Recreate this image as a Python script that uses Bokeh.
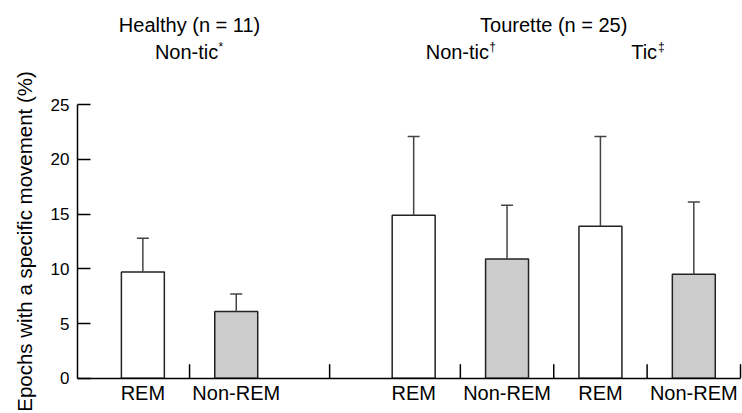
import math
from bokeh.plotting import figure
from bokeh.models import Range1d, FixedTicker, LinearAxis, ColumnDataSource
from bokeh.core.properties import value
from bokeh.embed import file_html
from bokeh.resources import INLINE

# ---- data ----
groups = ["Healthy (n = 11)", "Tourette (n = 25)"]
conditions = ["Non-tic", "Non-tic", "Tic"]
condition_marks = ["*", "\u2020", "\u2021"]
stages = ["REM", "Non-REM", "REM", "Non-REM", "REM", "Non-REM"]
means = [9.7, 6.1, 14.9, 10.9, 13.9, 9.5]
upper = [12.8, 7.7, 22.1, 15.8, 22.1, 16.1]
y_ticks = [0, 5, 10, 15, 20, 25]
y_title = "Epochs with a specific movement (%)"

# ---- layout (slot positions) ----
pos = [0.7, 1.7, 3.6, 4.6, 5.6, 6.6]
seps = [1.2, 2.7, 4.1, 5.1, 6.1, 7.1]
group_x = [1.2, 5.1]
cond_x = [1.2, 4.1, 6.1]
fills = ["white" if s == "REM" else "#cccccc" for s in stages]

FONT = value("Liberation Sans")
W, H = 742, 413
AXIS_X = 77          # pixel column of the y axis
AXIS_Y = 377.7       # pixel row of the x axis
X_AXIS_END = 740     # pixel column where the x axis ends
px_per_unit = 10.94
x_end_data = 7.1
x_px = (X_AXIS_END - AXIS_X) / x_end_data
x_start = -AXIS_X / x_px
x_end = (W - AXIS_X) / x_px
y_start = -(H - AXIS_Y) / px_per_unit
y_end = AXIS_Y / px_per_unit

p = figure(width=W, height=H, output_backend="svg", toolbar_location=None,
           x_range=Range1d(x_start, x_end), y_range=Range1d(y_start, y_end),
           x_axis_type=None, y_axis_type=None,
           min_border_left=0, min_border_right=0,
           min_border_top=0, min_border_bottom=0)
p.outline_line_color = None
p.background_fill_color = "white"

# y axis (drawn at x = 0 inside the frame)
yax = LinearAxis(bounds=(0, 25), ticker=FixedTicker(ticks=y_ticks),
                 fixed_location=0)
yax.axis_line_color = "black"
yax.axis_line_width = 1.5
yax.major_tick_in = 13
yax.major_tick_out = 0
yax.major_tick_line_width = 1.5
yax.minor_tick_line_color = None
yax.major_label_text_font = "Liberation Sans"
yax.major_label_text_font_size = "17px"
yax.major_label_text_color = "black"
yax.major_label_standoff = 8
p.add_layout(yax, "left")

# y axis title, centred on the 0-25 axis
p.text(x=[-(AXIS_X - 24) / x_px], y=[12.5], text=[y_title], angle=math.pi / 2,
       text_font=FONT, text_font_size="20.5px", text_align="center",
       text_baseline="middle", text_color="black")

# x axis (drawn at y = 0 inside the frame)
xax = LinearAxis(ticker=FixedTicker(ticks=pos), bounds=(0, x_end_data),
                 fixed_location=0,
                 major_label_overrides={x: s for x, s in zip(pos, stages)})
xax.axis_line_color = "black"
xax.axis_line_width = 1.5
xax.major_tick_in = 0
xax.major_tick_out = 0
xax.minor_tick_line_color = None
xax.major_label_text_font = "Liberation Sans"
xax.major_label_text_font_size = "20px"
xax.major_label_text_color = "black"
xax.major_label_standoff = 4
p.add_layout(xax, "below")

# separator ticks on x axis
p.segment(x0=seps, y0=[0] * len(seps), x1=seps, y1=[1.28] * len(seps),
          line_color="black", line_width=1.5)

# bars
src = ColumnDataSource(dict(x=pos, top=means, upper=upper, fill=fills))
p.vbar(x="x", top="top", width=0.46, bottom=0, fill_color="fill",
       line_color="#222222", line_width=1.5, source=src)

# error bars (upper only)
p.segment(x0="x", y0="top", x1="x", y1="upper", line_color="#444444",
          line_width=1.5, source=src)
p.dash(x="x", y="upper", size=12, line_color="#444444", line_width=1.5,
       source=src)

# headers
title_y = y_end - 24.5 / px_per_unit
sub_y = y_end - 51.0 / px_per_unit
p.text(x=group_x, y=[title_y] * 2, text=groups, text_font=FONT,
       text_font_size="20px", text_align="center",
       text_baseline="alphabetic", text_color="black")
main_offsets = [-3, -3, -3]
sup_offsets = [29, 29, 11]
p.text(x=cond_x, y=[sub_y] * 3, text=conditions, text_font=FONT,
       text_font_size="20px", text_align="center", x_offset=main_offsets,
       text_baseline="alphabetic", text_color="black")
p.text(x=cond_x, y=[sub_y] * 3, text=condition_marks, text_font=FONT,
       text_font_size="12px", text_align="left", x_offset=sup_offsets,
       y_offset=-5, text_baseline="alphabetic", text_color="black")

open("out.html", "w").write(file_html(p, INLINE))
